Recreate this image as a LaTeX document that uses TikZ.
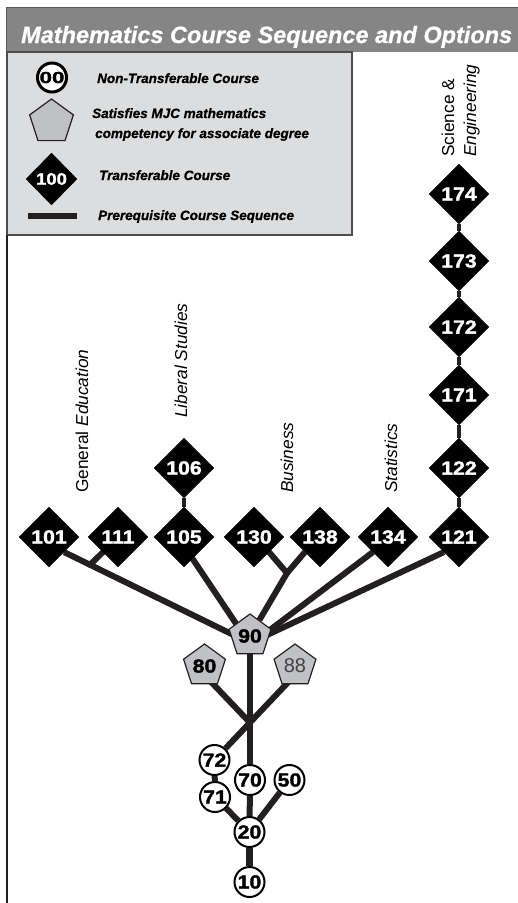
\documentclass[tikz,border=0pt]{standalone}
\usepackage{fontspec}
\setmainfont{Liberation Sans}[BoldItalicFeatures={FakeBold=0.8}]
\newfontfamily\heavy{Liberation Sans}[BoldFeatures={FakeBold=1.6,FakeStretch=1.12}]
\usetikzlibrary{shapes.geometric,calc,backgrounds}
\definecolor{titlegray}{RGB}{133,133,133}
\definecolor{titleedge}{RGB}{90,90,90}
\definecolor{legendgray}{RGB}{220,221,223}
\definecolor{pentgray}{RGB}{192,193,196}
\definecolor{linec}{RGB}{35,31,32}
\newcommand\myfs[1]{\fontsize{#1}{#1}\selectfont}
\tikzset{
  course/.style={diamond, fill=black, draw=black, minimum width=60pt, minimum height=60pt, inner sep=0pt, text=white, font=\myfs{19}\heavy\bfseries},
  nontr/.style={circle, fill=white, draw=black, line width=2pt, minimum size=30pt, inner sep=0pt, font=\myfs{19}\heavy\bfseries},
  comp/.style={regular polygon, regular polygon sides=5, fill=pentgray, draw=linec, line width=1.2pt, minimum size=44pt, inner sep=0pt, font=\myfs{19}\heavy\bfseries},
  conn/.style={draw=linec, line width=6pt},
  chainln/.style={draw=linec, line width=4.5pt},
  cat/.style={rotate=90, anchor=base west, inner sep=0pt, font=\myfs{17.3}\itshape},
  legtext/.style={anchor=base west, inner sep=0pt, font=\myfs{13.5}\bfseries\itshape},
}
\begin{document}
\begin{tikzpicture}[x=1pt,y=-1pt]
\useasboundingbox (0,0) rectangle (518,903);
% title bar
\fill[titlegray] (6,7) rectangle (518,52);
\draw[titleedge, line width=1pt] (518,7) -- (6,7) -- (6,52);
\node[anchor=base west, inner sep=0pt, text=white, font=\myfs{23.5}\bfseries\itshape] (title) at (21,43) {Mathematics Course Sequence and Options};
% legend
\draw[fill=legendgray, draw=linec!80, line width=2pt] (7,52) rectangle (352,235);
\draw[linec, line width=2pt] (7,235) -- (7,903);
\node[nontr, line width=3pt, minimum size=29pt, font=\myfs{16}\heavy\bfseries] (l00) at (52,77.5) {\scalebox{1.25}[1]{00}};
\node[comp, minimum size=46pt] (lpent) at (51.5,122) {};
\node[course, minimum width=51pt, minimum height=52pt, font=\myfs{16.5}\heavy\bfseries] (l100) at (51.5,179) {100};
\coordinate (lb1) at (28,216);
\coordinate (lb2) at (77,216);
\draw[conn] (lb1) -- (lb2);
\node[legtext] (t1) at (97,83) {Non-Transferable Course};
\node[legtext] (t2) at (92,118) {Satisfies MJC mathematics};
\node[legtext] (t3) at (95,138) {competency for associate degree};
\node[legtext] (t4) at (99,180) {Transferable Course};
\node[legtext] (t5) at (98,220) {Prerequisite Course Sequence};
% category labels
\node[cat] (catge) at (88,493) {\upshape General \itshape Education};
\node[cat] (catls) at (187,418) {Liberal Studies};
\node[cat] (catbu) at (293,493) {Business};
\node[cat] (catst) at (397,493) {Statistics};
\node[cat] (catsc) at (454,157) {\upshape Science \&};
\node[cat] (catse) at (476,157) {Engineering};
% transferable courses
\node[course] (d174) at (459,194) {174};
\node[course] (d173) at (459,261) {173};
\node[course] (d172) at (459,327) {172};
\node[course] (d171) at (459,395) {171};
\node[course] (d122) at (459,468) {122};
\node[course] (d121) at (459,537) {121};
\node[course] (d101) at (49,537) {101};
\node[course] (d111) at (118,537) {111};
\node[course] (d105) at (184,537) {105};
\node[course] (d106) at (184,468) {106};
\node[course] (d130) at (254,537) {130};
\node[course] (d138) at (320,537) {138};
\node[course] (d134) at (388,537) {134};
% competency
\node[comp] (p90) at (250,636) {90};
\node[comp] (p80) at (204.5,666) {80};
\node[comp, font=\myfs{20}, text=linec!85] (p88) at (295,666) {88};
% non-transferable
\node[nontr] (c72) at (214.5,760) {72};
\node[nontr] (c71) at (215,797) {71};
\node[nontr] (c70) at (250,780) {70};
\node[nontr] (c50) at (289.5,780) {50};
\node[nontr] (c20) at (249.5,832) {20};
\node[nontr] (c10) at (249.5,882) {10};
\begin{pgfonlayer}{background}
  \draw[chainln] (d174) -- (d173) -- (d172) -- (d171) -- (d122) -- (d121);
  \draw[chainln] (d106) -- (d105);
  \coordinate (a101) at ($(p90)+(0,7)$);
  \draw[conn] (d101.south east) -- (a101);
  \coordinate (j1) at ($(d101.south east)!0.14!(a101)$);
  \draw[conn, line cap=round] (d111.south west) -- (j1);
  \draw[conn] ($(d105)+(-6,0)$) -- ($(p90)+(-3,4)$);
  \coordinate (j2) at ($(d130.south east)!0.5!(d138.south west)+(0,21)$);
  \draw[conn, line cap=round] (d130.south east) -- (j2);
  \draw[conn, line join=round] (d138.south west) -- (j2) -- (p90);
  \draw[conn] (d134.south west) -- ($(p90)+(0,9)$);
  \draw[conn] (d121.south west) -- ($(p90)+(0,7)$);
  \draw[conn] (p90) -- (c70);
  \draw[conn] ($(p88)+(0,9)$) -- (c72);
  \coordinate (X) at ($($(p88)+(0,9)$)!0.56!(c72)$);
  \draw[conn] ($(p80)+(0,9)$) -- (X);
  \draw[conn] (c72) -- (c71);
  \draw[conn] (c71) -- (c20);
  \draw[conn] (c70) -- (c20);
  \draw[conn] (c50) -- (c20);
  \draw[conn, line width=7pt] (c20) -- (c10);
\end{pgfonlayer}
\end{tikzpicture}
\end{document}
